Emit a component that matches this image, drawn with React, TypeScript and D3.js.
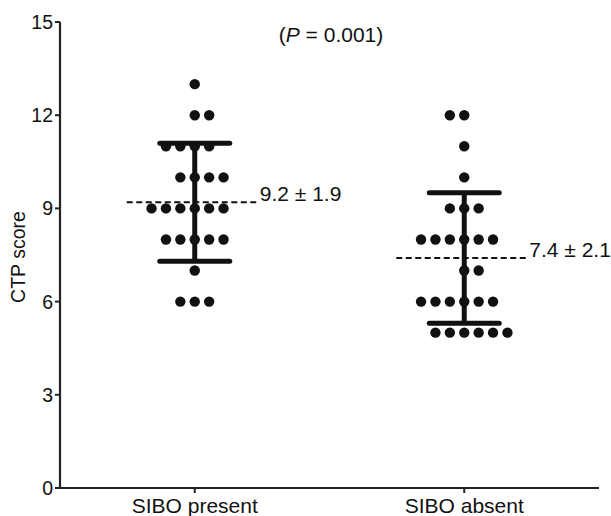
import React from "react";
import * as d3 from "d3";

const categories = ["SIBO present", "SIBO absent"];
// each point: value and horizontal slot (in dot-spacing units from the group centre)
const presentValues = [13, 12, 12, 11, 11, 11, 11, 10, 10, 10, 10, 9, 9, 9, 9, 9, 9, 8, 8, 8, 8, 8, 7, 6, 6, 6];
const presentSlots = [0, 0, 1, -2, -1, 0, 1, -1, 0, 1, 2, -3, -2, -1, 0, 1, 2, -2, -1, 0, 1, 2, 0, -1, 0, 1];
const absentValues = [12, 12, 11, 10, 9, 9, 9, 8, 8, 8, 8, 8, 8, 7, 7, 6, 6, 6, 6, 6, 6, 5, 5, 5, 5, 5, 5];
const absentSlots = [-1, 0, 0, 0, -1, 0, 1, -3, -2, -1, 0, 1, 2, 0, 1, -3, -2, -1, 0, 1, 2, -2, -1, 0, 1, 2, 3];
const means = [9.2, 7.4];
const sds = [1.9, 2.1];
const meanLabels = ["9.2 ± 1.9", "7.4 ± 2.1"];
const yTicks = [0, 3, 6, 9, 12, 15];

const W = 611;
const H = 516;
const FONT = "'Liberation Sans', Arial, Helvetica, sans-serif";

export default function App() {
  const x = d3.scalePoint<string>().domain(categories).range([60, 599]).padding(0.5);
  const y = d3.scaleLinear().domain([0, 15]).range([488, 22]);
  const spacing = 14.4;
  const groups = [
    { values: presentValues, slots: presentSlots },
    { values: absentValues, slots: absentSlots },
  ];
  const capHalf = 35;
  const dashLeft = 68;
  const dashRight = 63;

  return (
    <svg
      width={W}
      height={H}
      style={{ position: "absolute", left: 0, top: 0, background: "#fff" }}
      fontFamily={FONT}
    >
      {/* axes */}
      <line x1={60} x2={60} y1={y(15)} y2={y(0)} stroke="#222" strokeWidth={2.2} />
      <line x1={59} x2={599} y1={y(0)} y2={y(0)} stroke="#222" strokeWidth={2.2} />
      {yTicks.map((t) => (
        <g key={t}>
          <line x1={55} x2={60} y1={y(t)} y2={y(t)} stroke="#222" strokeWidth={2} />
          <text x={53} y={y(t)} dy="0.36em" textAnchor="end" fontSize={19.5} fill="#111">
            {t}
          </text>
        </g>
      ))}
      {categories.map((c) => (
        <g key={c}>
          <line x1={x(c)} x2={x(c)} y1={y(0)} y2={y(0) + 5} stroke="#222" strokeWidth={2} />
          <text x={x(c)} y={513} textAnchor="middle" fontSize={21} fill="#111">
            {c}
          </text>
        </g>
      ))}
      <text
        transform={`translate(25, ${(y(0) + y(15)) / 2 + 2}) rotate(-90)`}
        textAnchor="middle"
        fontSize={19.5}
        fill="#111"
      >
        CTP score
      </text>
      <text x={331} y={42} textAnchor="middle" fontSize={21} fill="#111">
        (<tspan fontStyle="italic">P</tspan> = 0.001)
      </text>

      {groups.map((g, gi) => {
        const cx = x(categories[gi]) as number;
        const m = means[gi];
        const s = sds[gi];
        return (
          <g key={gi}>
            {g.values.map((v, i) => (
              <circle key={i} cx={cx + g.slots[i] * spacing} cy={y(v)} r={5.2} fill="#111" />
            ))}
            <line x1={cx} x2={cx} y1={y(m + s)} y2={y(m - s)} stroke="#111" strokeWidth={5} />
            <line x1={cx - capHalf} x2={cx + capHalf} y1={y(m + s)} y2={y(m + s)} stroke="#111" strokeWidth={5} strokeLinecap="round" />
            <line x1={cx - capHalf} x2={cx + capHalf} y1={y(m - s)} y2={y(m - s)} stroke="#111" strokeWidth={5} strokeLinecap="round" />
            <line
              x1={cx - dashLeft}
              x2={cx + dashRight}
              y1={y(m)}
              y2={y(m)}
              stroke="#111"
              strokeWidth={2}
              strokeDasharray="6,3.5"
            />
            <text x={cx + dashRight + 2} y={y(m) - 1} fontSize={21} fill="#111">
              {meanLabels[gi]}
            </text>
          </g>
        );
      })}
    </svg>
  );
}
